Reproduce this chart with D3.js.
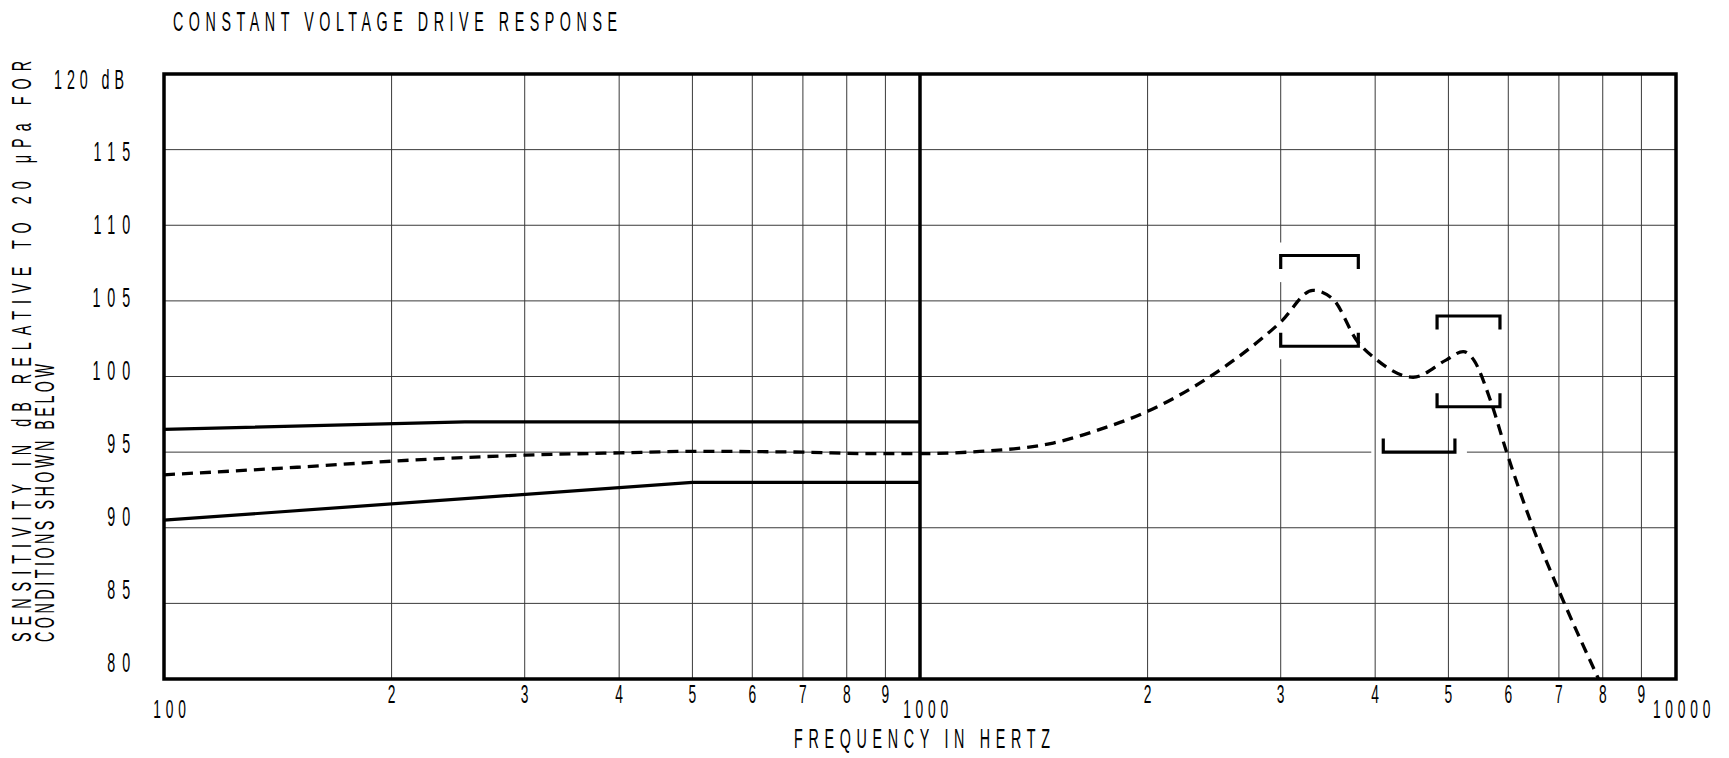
<!DOCTYPE html>
<html><head><meta charset="utf-8">
<script src="https://cdn.jsdelivr.net/npm/d3@7"></script>
<style>
html,body{margin:0;padding:0;background:#fff;}
svg text{font-family:"Liberation Sans",Arial,sans-serif;fill:#000;}
</style></head>
<body><svg id="c" width="1729" height="758"></svg>
<script>
// ---- data ----
const titleText = "CONSTANT VOLTAGE DRIVE RESPONSE";
const yTitleLines = ["SENSITIVITY IN dB RELATIVE TO 20 \u03bcPa FOR", "CONDITIONS SHOWN BELOW"];
const xTitleText = "FREQUENCY IN HERTZ";

const yTicks = [120, 115, 110, 105, 100, 95, 90, 85, 80];
const yTickLabels = ["120 dB", "115", "110", "105", "100", "95", "90", "85", "80"];
const xMinorTicks = [200, 300, 400, 500, 600, 700, 800, 900, 2000, 3000, 4000, 5000, 6000, 7000, 8000, 9000];
const xMinorLabels = ["2", "3", "4", "5", "6", "7", "8", "9", "2", "3", "4", "5", "6", "7", "8", "9"];
const xDecadeTicks = [100, 1000, 10000];
const xDecadeLabels = ["100", "1000", "10000"];

// upper tolerance limit (solid)
const upperFreq = [100, 250, 1000];
const upperDb = [96.5, 97.0, 97.0];
// lower tolerance limit (solid)
const lowerFreq = [100, 500, 1000];
const lowerDb = [90.5, 93.0, 93.0];
// typical response (dashed)
const respFreq = [100, 150, 200, 300, 400, 500, 700, 850, 1000, 1200, 1500, 1730, 2000, 2420, 3000, 3310, 3520, 3780, 4020, 4490, 4970, 5230, 5400, 5680, 5970, 6470, 7020, 7900];
const respDb = [93.5, 94.0, 94.4, 94.8, 94.95, 95.05, 95.0, 94.9, 94.9, 95.05, 95.6, 96.5, 97.7, 100.0, 103.6, 105.7, 105.1, 102.4, 101.1, 99.95, 101.1, 101.65, 101.1, 98.45, 95.0, 90.0, 85.7, 80.0];

// tolerance brackets above 1 kHz
const bracketF1 = [3000, 3000, 4830, 4830, 4100];
const bracketF2 = [3800, 3800, 5850, 5850, 5100];
const bracketDb = [108, 102, 104, 98, 95];
const bracketDir = [-1, 1, -1, 1, 1]; // legs: -1 = down, 1 = up
const bracketLegDb = 0.9;

// ---- layout ----
const L = 164, R = 1676, T = 74, B = 679;
const SX = 0.53; // horizontal squeeze for the narrow drafting lettering
const FS = 27;
const svg = d3.select("#c");
const x = d3.scaleLog().domain([100, 10000]).range([L, R]);
const y = d3.scaleLinear().domain([80, 120]).range([B, T]);
const yLab = d3.scaleLinear().domain([80, 120]).range([662, 79]);

// horizontal grid
svg.append("g").selectAll("line").data(yTicks.filter(d => d > 80 && d < 120)).join("line")
  .attr("x1", L).attr("x2", R).attr("y1", d => y(d)).attr("y2", d => y(d))
  .attr("stroke", "#3a3a3a").attr("stroke-width", 1);

const brackets = bracketF1.map((f, i) => ({f1: f, f2: bracketF2[i], db: bracketDb[i], dir: bracketDir[i]}));

// horizontal halos (gaps in grid where brackets sit)
svg.append("g").selectAll("line").data(brackets).join("line")
  .attr("x1", d => x(d.f1) - 12).attr("x2", d => x(d.f2) + 12)
  .attr("y1", d => y(d.db)).attr("y2", d => y(d.db))
  .attr("stroke", "#fff").attr("stroke-width", 3);

// vertical grid
svg.append("g").selectAll("line").data(xMinorTicks).join("line")
  .attr("x1", d => x(d)).attr("x2", d => x(d)).attr("y1", T).attr("y2", B)
  .attr("stroke", "#3a3a3a").attr("stroke-width", 1);

// vertical halos along bracket legs
const legs = [];
brackets.forEach(b => {
  [b.f1, b.f2].forEach(f => legs.push({f: f, y1: y(b.db), y2: y(b.db + b.dir * bracketLegDb)}));
});
svg.append("g").selectAll("line").data(legs).join("line")
  .attr("x1", d => x(d.f)).attr("x2", d => x(d.f))
  .attr("y1", d => Math.min(d.y1, d.y2) - 13).attr("y2", d => Math.max(d.y1, d.y2) + 13)
  .attr("stroke", "#fff").attr("stroke-width", 3);

// borders and 1 kHz line
svg.append("rect").attr("x", L).attr("y", T).attr("width", R - L).attr("height", B - T)
  .attr("fill", "none").attr("stroke", "#000").attr("stroke-width", 3.5);
svg.append("line").attr("x1", x(1000)).attr("x2", x(1000)).attr("y1", T).attr("y2", B)
  .attr("stroke", "#000").attr("stroke-width", 3.5);

// curves
const lineGen = d3.line().x(d => x(d[0])).y(d => y(d[1]));
svg.append("path").datum(d3.zip(upperFreq, upperDb)).attr("d", lineGen)
  .attr("fill", "none").attr("stroke", "#000").attr("stroke-width", 3.2);
svg.append("path").datum(d3.zip(lowerFreq, lowerDb)).attr("d", lineGen)
  .attr("fill", "none").attr("stroke", "#000").attr("stroke-width", 3.2);
const smooth = d3.line().x(d => x(d[0])).y(d => y(d[1])).curve(d3.curveMonotoneX);
svg.append("path").datum(d3.zip(respFreq, respDb)).attr("d", smooth)
  .attr("fill", "none").attr("stroke", "#000").attr("stroke-width", 3.3)
  .attr("stroke-dasharray", "11,7");

// brackets
svg.append("g").selectAll("path").data(brackets).join("path")
  .attr("d", d => {
    const yl = y(d.db + d.dir * bracketLegDb), yb = y(d.db);
    return `M${x(d.f1)},${yl}L${x(d.f1)},${yb}L${x(d.f2)},${yb}L${x(d.f2)},${yl}`;
  })
  .attr("fill", "none").attr("stroke", "#000").attr("stroke-width", 3.2);

// y tick labels
const yl = svg.append("g").selectAll("text").data(yTicks).join("text")
  .attr("font-size", FS)
  .text((d, i) => yTickLabels[i]);
yl.filter(d => d !== 120)
  .attr("transform", d => `translate(137,${yLab(d) + 9.5}) scale(${SX},1)`)
  .attr("text-anchor", "end").attr("letter-spacing", 13);
yl.filter(d => d === 120)
  .attr("transform", d => `translate(54,${yLab(d) + 9.5}) scale(${SX},1)`)
  .attr("text-anchor", "start").attr("textLength", 70 / SX).attr("lengthAdjust", "spacing");

// x tick labels
svg.append("g").selectAll("text").data(xMinorTicks).join("text")
  .attr("transform", d => `translate(${x(d)},703) scale(${SX},1)`)
  .attr("text-anchor", "middle").attr("font-size", FS - 1)
  .text((d, i) => xMinorLabels[i]);
svg.append("g").selectAll("text").data(xDecadeTicks).join("text")
  .attr("transform", d => `translate(${x(d) + 8},718) scale(${SX},1)`)
  .attr("text-anchor", "middle").attr("font-size", FS - 1).attr("letter-spacing", 9)
  .text((d, i) => xDecadeLabels[i]);

// titles
svg.append("text").attr("transform", `translate(173,31) scale(${SX},1)`).attr("font-size", FS)
  .attr("textLength", 444 / SX).attr("lengthAdjust", "spacing").text(titleText);
svg.append("text").attr("transform", `translate(794,748) scale(${SX},1)`).attr("font-size", FS)
  .attr("textLength", 256 / SX).attr("lengthAdjust", "spacing").text(xTitleText);
const yTitleX = [31, 54], yTitleLen = [581, 278];
svg.append("g").selectAll("text").data(yTitleLines).join("text")
  .attr("transform", (d, i) => `translate(${yTitleX[i]},642) rotate(-90) scale(${SX},1)`)
  .attr("font-size", FS).attr("textLength", (d, i) => yTitleLen[i] / SX).attr("lengthAdjust", "spacing")
  .text(d => d);
</script></body></html>
